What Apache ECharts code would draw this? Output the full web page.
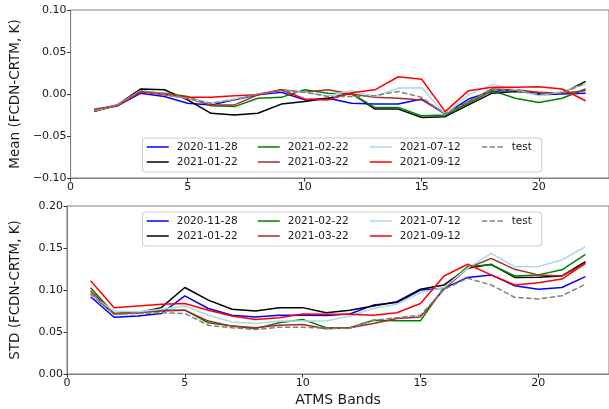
<!DOCTYPE html>
<html>
<head>
<meta charset="utf-8">
<script src="https://cdn.jsdelivr.net/npm/echarts@6/dist/echarts.min.js"></script>
<style>
  html, body { margin: 0; padding: 0; background: #fff; }
  #chart { width: 609px; height: 409px; }
</style>
</head>
<body>
<div id="chart"></div>
<script>
// ATMS band numbers
const bands = [1, 2, 3, 4, 5, 6, 7, 8, 9, 10, 11, 12, 13, 14, 15, 16, 17, 18, 19, 20, 21, 22];

const seriesNames = ['2020-11-28', '2021-01-22', '2021-02-22', '2021-03-22', '2021-07-12', '2021-09-12', 'test'];

// Mean difference FCDN - CRTM (K)
const mean_20201128 = [-0.020, -0.014, 0.001, -0.003, -0.011, -0.013, -0.007, -0.001, 0.002, -0.007, -0.005, -0.011, -0.012, -0.012, -0.006, -0.024, -0.006, 0.003, 0.005, -0.001, 0.000, 0.001];
const mean_20210122 = [-0.021, -0.013, 0.006, 0.005, -0.007, -0.023, -0.025, -0.023, -0.012, -0.009, -0.005, 0.001, -0.018, -0.018, -0.028, -0.027, -0.013, 0.001, 0.003, 0.001, 0.001, 0.015];
const mean_20210222 = [-0.020, -0.013, 0.003, 0.001, -0.003, -0.014, -0.015, -0.005, -0.004, 0.005, 0.001, 0.000, -0.016, -0.016, -0.026, -0.025, -0.011, 0.004, -0.005, -0.010, -0.005, 0.006];
const mean_20210322 = [-0.019, -0.013, 0.003, -0.001, -0.005, -0.013, -0.013, -0.001, 0.005, 0.002, 0.005, 0.000, -0.004, -0.005, -0.007, -0.023, -0.009, 0.006, 0.005, 0.002, 0.001, 0.004];
const mean_20210712 = [-0.020, -0.013, 0.004, 0.000, -0.005, -0.011, -0.006, 0.000, 0.004, 0.002, -0.002, 0.004, -0.003, 0.007, 0.0075, -0.024, -0.001, 0.0115, 0.005, -0.002, 0.003, 0.012];
const mean_20210912 = [-0.018, -0.014, 0.003, 0.000, -0.004, -0.004, -0.002, -0.001, 0.005, -0.006, -0.007, 0.0015, 0.005, 0.0205, 0.0175, -0.021, 0.004, 0.008, 0.008, 0.0087, 0.006, -0.008];
const mean_test     = [-0.020, -0.013, 0.004, 0.000, -0.005, -0.011, -0.007, 0.000, 0.004, 0.002, -0.003, -0.003, -0.002, 0.003, -0.004, -0.024, -0.009, 0.005, 0.004, 0.000, 0.001, 0.013];

// Standard deviation of FCDN - CRTM (K)
const std_20201128 = [0.092, 0.0675, 0.069, 0.072, 0.093, 0.078, 0.070, 0.068, 0.070, 0.070, 0.0696, 0.0714, 0.082, 0.085, 0.100, 0.102, 0.115, 0.118, 0.105, 0.1008, 0.103, 0.116];
const std_20210122 = [0.095, 0.0714, 0.073, 0.079, 0.103, 0.088, 0.077, 0.075, 0.079, 0.079, 0.073, 0.076, 0.081, 0.086, 0.101, 0.106, 0.126, 0.1306, 0.115, 0.1153, 0.1167, 0.1337];
const std_20210222 = [0.1027, 0.072, 0.073, 0.076, 0.076, 0.061, 0.057, 0.054, 0.061, 0.065, 0.055, 0.055, 0.064, 0.0634, 0.0635, 0.103, 0.128, 0.130, 0.1167, 0.118, 0.124, 0.1425];
const std_20210322 = [0.099, 0.072, 0.073, 0.075, 0.076, 0.063, 0.057, 0.055, 0.058, 0.059, 0.054, 0.055, 0.060, 0.066, 0.068, 0.101, 0.126, 0.1377, 0.1246, 0.118, 0.1167, 0.1318];
const std_20210712 = [0.094, 0.075, 0.074, 0.077, 0.081, 0.070, 0.062, 0.060, 0.063, 0.063, 0.063, 0.069, 0.078, 0.083, 0.097, 0.103, 0.126, 0.1437, 0.1278, 0.128, 0.1357, 0.1516];
const std_20210912 = [0.111, 0.079, 0.081, 0.083, 0.084, 0.076, 0.069, 0.065, 0.067, 0.0714, 0.071, 0.071, 0.070, 0.073, 0.084, 0.1167, 0.1306, 0.118, 0.106, 0.1087, 0.113, 0.1318];
const std_test     = [0.096, 0.071, 0.072, 0.073, 0.072, 0.058, 0.055, 0.053, 0.0556, 0.0556, 0.0545, 0.0545, 0.064, 0.067, 0.070, 0.1008, 0.114, 0.106, 0.0913, 0.0893, 0.0932, 0.1068];

const xTicks = [0, 5, 10, 15, 20];
const meanTicks = [-0.10, -0.05, 0.00, 0.05, 0.10];
const stdTicks = [0.00, 0.05, 0.10, 0.15, 0.20];

const meanValues = [mean_20201128, mean_20210122, mean_20210222, mean_20210322, mean_20210712, mean_20210912, mean_test];
const stdValues = [std_20201128, std_20210122, std_20210222, std_20210322, std_20210712, std_20210912, std_test];

const colors = ['#0000ff', '#000000', '#008000', '#a52a2a', '#add8e6', '#ff0000', '#808080'];
const lineTypes = ['solid', 'solid', 'solid', 'solid', 'solid', 'solid', [5.5, 2.4]];

const FONT = 'DejaVu Sans';
const TEXT = '#1a1a1a';
const SPINE = '#7f7f7f';

const fmtNum = v => v.toFixed(2).replace('-', '\u2212');

function makeXAxis(gridIndex, withName) {
  return {
    type: 'value', gridIndex: gridIndex, min: 0, max: 23, interval: 5,
    axisLine: { show: true, onZero: false, lineStyle: { color: SPINE, width: 1 } },
    axisTick: { show: true, length: 3.5, lineStyle: { color: '#333' } },
    axisLabel: {
      color: TEXT, fontFamily: FONT, fontSize: 11, margin: 4, showMaxLabel: false,
      formatter: v => (xTicks.indexOf(v) >= 0 ? String(v) : '')
    },
    splitLine: { show: false },
    name: withName ? 'ATMS Bands' : '',
    nameLocation: 'middle', nameGap: 19,
    nameTextStyle: { color: TEXT, fontFamily: FONT, fontSize: 14 }
  };
}

function makeYAxis(gridIndex, ticks, name) {
  return {
    type: 'value', gridIndex: gridIndex,
    min: ticks[0], max: ticks[ticks.length - 1], interval: ticks[1] - ticks[0],
    axisLine: { show: true, onZero: false, lineStyle: { color: SPINE, width: 1 } },
    axisTick: { show: true, length: 3.5, lineStyle: { color: '#333' } },
    axisLabel: { color: TEXT, fontFamily: FONT, fontSize: 11, margin: 4, formatter: fmtNum },
    splitLine: { show: false },
    name: name, nameLocation: 'middle', nameGap: 45,
    nameTextStyle: { color: TEXT, fontFamily: FONT, fontSize: 13.5 }
  };
}

const series = [];
[meanValues, stdValues].forEach((group, gi) => {
  group.forEach((vals, i) => {
    series.push({
      name: seriesNames[i], type: 'line', xAxisIndex: gi, yAxisIndex: gi,
      data: bands.map((b, k) => [b, vals[k]]),
      symbol: 'none', silent: true, animation: false,
      lineStyle: { color: colors[i], width: 1.5, type: lineTypes[i] },
      itemStyle: { color: colors[i] }
    });
  });
});

// legend columns: each column lists two entries, filled top to bottom
const legendColumns = [
  ['2020-11-28', '2021-01-22'],
  ['2021-02-22', '2021-03-22'],
  ['2021-07-12', '2021-09-12'],
  ['test']
];
const colLeft = [146, 257, 369, 481];

function makeLegends(boxTop) {
  return legendColumns.map((names, c) => {
    const first = c === 0;
    return {
      data: names,
      orient: 'vertical',
      left: first ? colLeft[0] - 3.5 : colLeft[c],
      top: boxTop,
      itemWidth: 22, itemHeight: 14, itemGap: 1,
      padding: first ? [2, 304, 3, 3.5] : [2, 0, 3, 0],
      backgroundColor: first ? 'rgba(255,255,255,0.8)' : 'transparent',
      borderColor: first ? '#cccccc' : 'transparent',
      borderWidth: first ? 1 : 0,
      borderRadius: 3,
      z: first ? 5 : 6,
      selectedMode: false,
      // only the line sample is shown, no marker on it
      itemStyle: { color: 'transparent', borderColor: 'transparent', borderWidth: 0, opacity: 0 },
      lineStyle: { width: 1.5 },
      textStyle: { color: TEXT, fontFamily: FONT, fontSize: 10.5, lineHeight: 14, padding: [0, 0, 0, 3] }
    };
  });
}

const chart = echarts.init(document.getElementById('chart'), null, { renderer: 'canvas' });
chart.setOption({
  animation: false,
  backgroundColor: '#ffffff',
  grid: [
    { left: 65.5, top: 10, width: 545, height: 168, show: true, borderColor: SPINE, borderWidth: 1, backgroundColor: 'transparent' },
    { left: 65.5, top: 206, width: 545, height: 168, show: true, borderColor: SPINE, borderWidth: 1, backgroundColor: 'transparent' }
  ],
  xAxis: [makeXAxis(0, false), makeXAxis(1, true)],
  yAxis: [makeYAxis(0, meanTicks, 'Mean (FCDN-CRTM, K)'), makeYAxis(1, stdTicks, 'STD (FCDN-CRTM, K)')],
  legend: makeLegends(138).concat(makeLegends(212)),
  series: series
});
</script>
</body>
</html>
